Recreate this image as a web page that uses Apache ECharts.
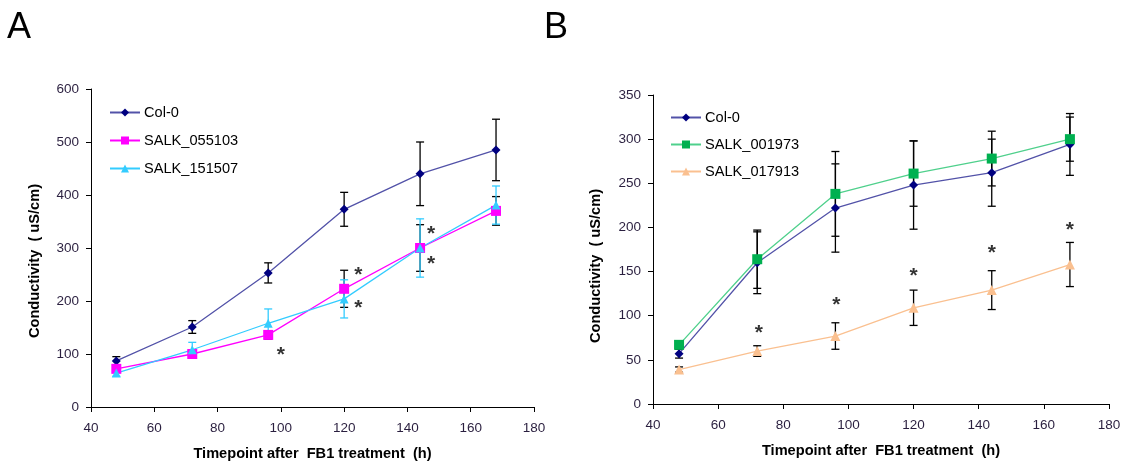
<!DOCTYPE html>
<html><head><meta charset="utf-8">
<script src="https://cdn.jsdelivr.net/npm/echarts@6/dist/echarts.min.js"></script>
<style>html,body{margin:0;padding:0;background:#fff}#c{width:1133px;height:464px}</style>
</head><body><div id="c"></div>
<script>
// ---- data ----
const timepoints = [48, 72, 96, 120, 144, 168];
// Panel A
const aCol0 = [87, 151, 253, 373, 440, 485];
const aCol0Err = [8, 12, 19, 32, 60, 58];
const aS055103 = [72, 100, 136, 223, 300, 370];
const aS055103Err = [4, 5, 8, 35, 44, 27];
const aS151507 = [64, 108, 158, 204, 300, 381];
const aS151507Err = [6, 14, 27, 36, 55, 36];
const aStars = [[100, 108], [124.5, 258], [124.5, 196], [147.5, 336], [147.5, 279]];
// Panel B
const bCol0 = [57, 160, 222, 248, 262, 294];
const bCol0Err = [5, 35, 50, 50, 38, 35];
const bS001973 = [67, 164, 238, 261, 278, 300];
const bS001973Err = [0, 33, 48, 37, 31, 25];
const bS017913 = [39, 60, 77, 109, 129, 158];
const bS017913Err = [3, 6, 15, 20, 22, 25];
const bStars = [[72.5, 86], [96.3, 118], [120, 150], [144, 177], [168, 203]];
const xTicksMin = 40, xTicksMax = 180, xTickStep = 20;
const aYMax = 600, aYStep = 100, bYMax = 350, bYStep = 50;
const yName = 'Conductivity  ( uS/cm)';
const xName = 'Timepoint after  FB1 treatment  (h)';

const FONT = '"Liberation Sans", Arial, sans-serif';
const NAVY = '#000080', NAVYLINE = '#5252a8', MAG = '#ff00ff', CYAN = '#33ccff', GREEN = '#00b050', PEACH = '#fac090';

function pairs(vals) { return timepoints.map((t, i) => [t, vals[i]]); }
function errData(vals, errs) { return timepoints.map((t, i) => [t, vals[i] - errs[i], vals[i] + errs[i]]); }
function errSeries(idx, vals, errs, color) {
  return {
    type: 'custom', xAxisIndex: idx, yAxisIndex: idx, z: 1, silent: true,
    data: errData(vals, errs),
    renderItem: function (params, api) {
      const lo = api.coord([api.value(0), api.value(1)]);
      const hi = api.coord([api.value(0), api.value(2)]);
      if (Math.abs(lo[1] - hi[1]) < 1) return null;
      const w = 4;
      const st = { stroke: color, lineWidth: 1.3 };
      return { type: 'group', children: [
        { type: 'line', shape: { x1: lo[0], y1: lo[1], x2: hi[0], y2: hi[1] }, style: st },
        { type: 'line', shape: { x1: lo[0] - w, y1: lo[1], x2: lo[0] + w, y2: lo[1] }, style: st },
        { type: 'line', shape: { x1: hi[0] - w, y1: hi[1], x2: hi[0] + w, y2: hi[1] }, style: st }
      ]};
    }
  };
}
function lineSeries(idx, name, vals, lineColor, markColor, symbol, size) {
  return {
    type: 'line', name: name, xAxisIndex: idx, yAxisIndex: idx, z: 3,
    data: pairs(vals), symbol: symbol, symbolSize: size, showSymbol: true,
    lineStyle: { color: lineColor, width: 1.3 }, itemStyle: { color: markColor }
  };
}
function starSeries(idx, pts) {
  return {
    type: 'scatter', xAxisIndex: idx, yAxisIndex: idx, z: 4, silent: true,
    data: pts, symbolSize: 1, itemStyle: { color: 'rgba(0,0,0,0)' },
    label: { show: true, position: 'inside', formatter: '*', fontSize: 21, fontWeight: 'bold', color: '#000', fontFamily: FONT, offset: [0, 5] }
  };
}
function xAxis(idx) {
  return {
    type: 'value', gridIndex: idx, min: xTicksMin, max: xTicksMax, interval: xTickStep,
    name: xName, nameLocation: 'middle', nameGap: 39,
    nameTextStyle: { fontFamily: FONT, fontSize: 14.6, fontWeight: 'bold', color: '#000' },
    axisLine: { lineStyle: { color: '#000', width: 1 } },
    axisTick: { lineStyle: { color: '#000' }, length: 5 },
    axisLabel: { fontFamily: FONT, fontSize: 13.5, color: '#2a1f3f', margin: 14 },
    splitLine: { show: false }
  };
}
function yAxis(idx, max, step) {
  return {
    type: 'value', gridIndex: idx, min: 0, max: max, interval: step,
    axisLine: { show: true, lineStyle: { color: '#000', width: 1 } },
    axisTick: { show: true, lineStyle: { color: '#000' }, length: 5 },
    axisLabel: { fontFamily: FONT, fontSize: 13.5, color: '#2a1f3f', margin: 12 },
    splitLine: { show: false }
  };
}
const legendCommon = {
  orient: 'vertical', itemWidth: 30, itemHeight: 10, itemGap: 12, padding: 0,
  textStyle: { fontFamily: FONT, fontSize: 14.6, color: '#000', padding: [0, 0, 0, -1] }, selectedMode: false
};
function yNameText(x, y) {
  return { type: 'text', x: x, y: y, rotation: Math.PI / 2,
    style: { text: yName, fontFamily: FONT, fontSize: 14.6, fontWeight: 'bold', fill: '#000', align: 'center', verticalAlign: 'middle' } };
}

const chart = echarts.init(document.getElementById('c'), null, { renderer: 'canvas' });
chart.setOption({
  animation: false,
  backgroundColor: '#fff',
  title: [
    { text: 'A', left: 7, top: 10, padding: 0, textStyle: { fontFamily: FONT, fontSize: 36, fontWeight: 'normal', color: '#000' } },
    { text: 'B', left: 544, top: 10, padding: 0, textStyle: { fontFamily: FONT, fontSize: 36, fontWeight: 'normal', color: '#000' } }
  ],
  graphic: [yNameText(35, 261), yNameText(596, 266)],
  grid: [
    { left: 91, top: 89, width: 443, height: 318, outerBoundsMode: 'none' },
    { left: 653, top: 95, width: 456, height: 309, outerBoundsMode: 'none' }
  ],
  xAxis: [xAxis(0), xAxis(1)],
  yAxis: [yAxis(0, aYMax, aYStep), yAxis(1, bYMax, bYStep)],
  legend: [
    Object.assign({}, legendCommon, { left: 109, top: 105, itemGap: 13, data: ['Col-0', 'SALK_055103', 'SALK_151507'] }),
    Object.assign({}, legendCommon, { left: 670, top: 110, data: ['Col-0', 'SALK_001973', 'SALK_017913'] })
  ],
  series: [
    errSeries(0, aCol0, aCol0Err, '#000'),
    errSeries(0, aS055103, aS055103Err, '#000'),
    errSeries(0, aS151507, aS151507Err, CYAN),
    lineSeries(0, 'Col-0', aCol0, NAVYLINE, NAVY, 'diamond', 9),
    lineSeries(0, 'SALK_055103', aS055103, MAG, MAG, 'rect', 10),
    lineSeries(0, 'SALK_151507', aS151507, CYAN, CYAN, 'triangle', 9),
    starSeries(0, aStars),
    errSeries(1, bCol0, bCol0Err, '#000'),
    errSeries(1, bS001973, bS001973Err, '#000'),
    errSeries(1, bS017913, bS017913Err, '#000'),
    lineSeries(1, 'Col-0', bCol0, NAVYLINE, NAVY, 'diamond', 9),
    lineSeries(1, 'SALK_001973', bS001973, '#4fd08c', GREEN, 'rect', 10),
    lineSeries(1, 'SALK_017913', bS017913, PEACH, PEACH, 'triangle', 10),
    starSeries(1, bStars)
  ]
});
</script></body></html>
